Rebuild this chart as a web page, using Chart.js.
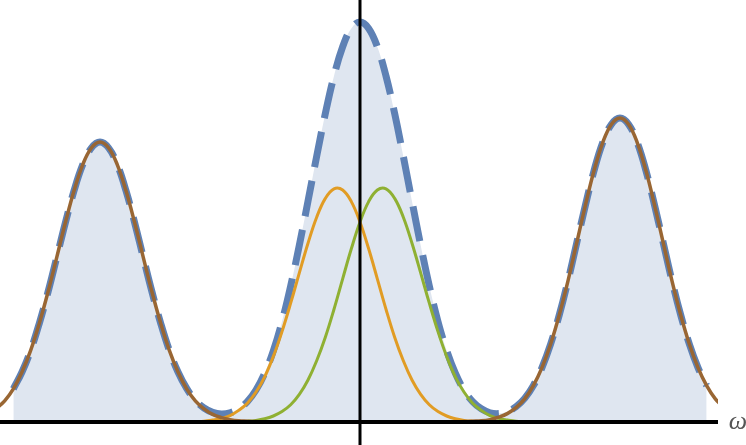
<!DOCTYPE html>
<html>
<head>
    <meta charset="utf-8">
    <title>Spectrum</title>
    <script src="https://cdn.jsdelivr.net/npm/chart.js"></script>
    <style>
        body { margin: 0; background: #fff; }
    </style>
</head>
<body>
<div style="width: 746px; height: 445px; position: relative;">
    <canvas id="specChart"></canvas>
</div>

<script>
    // frequency grid (omega)
    const omega = [
        -4.2, -4.1, -4.0, -3.9, -3.8, -3.7, -3.6, -3.5, -3.4, -3.3,
        -3.2, -3.1, -3.0, -2.9, -2.8, -2.7, -2.6, -2.5, -2.4, -2.3,
        -2.2, -2.1, -2.0, -1.9, -1.8, -1.7, -1.6, -1.5, -1.4, -1.3,
        -1.2, -1.1, -1.0, -0.9, -0.8, -0.7, -0.6, -0.5, -0.4, -0.3,
        -0.2, -0.1, 0.0, 0.1, 0.2, 0.3, 0.4, 0.5, 0.6, 0.7,
        0.8, 0.9, 1.0, 1.1, 1.2, 1.3, 1.4, 1.5, 1.6, 1.7,
        1.8, 1.9, 2.0, 2.1, 2.2, 2.3, 2.4, 2.5, 2.6, 2.7,
        2.8, 2.9, 3.0, 3.1, 3.2, 3.3, 3.4, 3.5, 3.6, 3.7,
        3.8, 3.9, 4.0, 4.1, 4.2
    ];

    // side peaks (brown)
    const sidePeaks = [
        0.033, 0.053, 0.083, 0.125, 0.179, 0.247, 0.325, 0.411, 0.498, 0.578,
        0.643, 0.685, 0.700, 0.685, 0.643, 0.578, 0.498, 0.411, 0.325, 0.247,
        0.179, 0.125, 0.083, 0.053, 0.033, 0.019, 0.011, 0.006, 0.003, 0.002,
        0.001, 0, 0, 0, 0, 0, 0, 0, 0, 0,
        0, 0, 0, 0, 0, 0, 0, 0, 0, 0,
        0, 0, 0, 0, 0.001, 0.002, 0.003, 0.006, 0.012, 0.021,
        0.036, 0.058, 0.091, 0.136, 0.195, 0.268, 0.353, 0.447, 0.541, 0.628,
        0.698, 0.744, 0.760, 0.744, 0.698, 0.628, 0.541, 0.447, 0.353, 0.268,
        0.195, 0.136, 0.091, 0.058, 0.036
    ];

    // left central component (orange)
    const leftCenter = [
        0, 0, 0, 0, 0, 0, 0, 0, 0, 0,
        0, 0, 0, 0, 0, 0, 0, 0, 0, 0,
        0, 0, 0.0005, 0.001, 0.002, 0.005, 0.009, 0.016, 0.029, 0.047,
        0.075, 0.113, 0.164, 0.226, 0.297, 0.373, 0.447, 0.512, 0.559, 0.583,
        0.580, 0.551, 0.500, 0.433, 0.358, 0.282, 0.212, 0.153, 0.105, 0.069,
        0.043, 0.026, 0.015, 0.008, 0.004, 0.002, 0.001, 0, 0, 0,
        0, 0, 0, 0, 0, 0, 0, 0, 0, 0,
        0, 0, 0, 0, 0, 0, 0, 0, 0, 0,
        0, 0, 0, 0, 0
    ];

    // right central component (green)
    const rightCenter = [
        0, 0, 0, 0, 0, 0, 0, 0, 0, 0,
        0, 0, 0, 0, 0, 0, 0, 0, 0, 0,
        0, 0, 0, 0, 0, 0, 0, 0, 0.001, 0.002,
        0.004, 0.008, 0.015, 0.026, 0.043, 0.069, 0.105, 0.153, 0.212, 0.282,
        0.358, 0.433, 0.500, 0.551, 0.580, 0.583, 0.559, 0.512, 0.447, 0.373,
        0.297, 0.226, 0.164, 0.113, 0.075, 0.047, 0.029, 0.016, 0.009, 0.005,
        0.002, 0.001, 0.0005, 0, 0, 0, 0, 0, 0, 0,
        0, 0, 0, 0, 0, 0, 0, 0, 0, 0,
        0, 0, 0, 0, 0
    ];

    // full spectrum (blue dashed, filled)
    const total = [
        null, null, 0.083, 0.125, 0.179, 0.247, 0.325, 0.411, 0.498, 0.578,
        0.643, 0.685, 0.700, 0.685, 0.643, 0.578, 0.498, 0.411, 0.325, 0.247,
        0.179, 0.125, 0.084, 0.054, 0.035, 0.024, 0.020, 0.023, 0.033, 0.051,
        0.080, 0.122, 0.178, 0.251, 0.340, 0.442, 0.552, 0.664, 0.771, 0.865,
        0.938, 0.984, 1.000, 0.984, 0.938, 0.865, 0.771, 0.664, 0.552, 0.442,
        0.340, 0.251, 0.179, 0.122, 0.080, 0.051, 0.033, 0.023, 0.021, 0.026,
        0.038, 0.059, 0.091, 0.136, 0.195, 0.268, 0.353, 0.447, 0.541, 0.628,
        0.698, 0.744, 0.760, 0.744, 0.698, 0.628, 0.541, 0.447, 0.353, 0.268,
        0.195, 0.136, 0.091, null, null
    ];

    const toPoints = vals => omega.map((w, i) => ({ x: w, y: vals[i] }));

    const lineBase = {
        pointRadius: 0,
        tension: 0.4,
        fill: false
    };

    // axes drawn on top of the curves, plus the omega label
    const axesPlugin = {
        id: 'axesOnTop',
        afterDatasetsDraw(chart) {
            const c = chart.ctx;
            const area = chart.chartArea;
            const x0 = chart.scales.x.getPixelForValue(0);
            const y0 = chart.scales.y.getPixelForValue(0);
            c.save();
            c.strokeStyle = '#000';
            c.lineWidth = 4;
            c.beginPath();
            c.moveTo(area.left, y0);
            c.lineTo(area.right, y0);
            c.stroke();
            c.lineWidth = 3;
            c.beginPath();
            c.moveTo(x0, 0);
            c.lineTo(x0, chart.height);
            c.stroke();
            c.fillStyle = '#555';
            c.font = 'italic 26px "Liberation Serif"';
            c.textAlign = 'center';
            c.textBaseline = 'alphabetic';
            c.fillText('ω', area.right + 20, y0 + 7);
            c.restore();
        }
    };

    const ctx = document.getElementById('specChart').getContext('2d');
    const specChart = new Chart(ctx, {
        type: 'line',
        data: {
            datasets: [
                Object.assign({}, lineBase, {
                    label: 'side peaks',
                    data: toPoints(sidePeaks),
                    borderColor: 'rgb(153, 102, 51)',
                    borderWidth: 3.5,
                    order: 1
                }),
                Object.assign({}, lineBase, {
                    label: 'left center',
                    data: toPoints(leftCenter),
                    borderColor: 'rgb(225, 156, 36)',
                    borderWidth: 3,
                    order: 2
                }),
                Object.assign({}, lineBase, {
                    label: 'right center',
                    data: toPoints(rightCenter),
                    borderColor: 'rgb(143, 176, 50)',
                    borderWidth: 3,
                    order: 3
                }),
                Object.assign({}, lineBase, {
                    label: 'total',
                    data: toPoints(total),
                    borderColor: 'rgb(94, 129, 181)',
                    backgroundColor: 'rgb(223, 230, 240)',
                    borderWidth: 7,
                    borderDash: [36, 14],
                    borderCapStyle: 'butt',
                    fill: 'origin',
                    order: 10
                })
            ]
        },
        options: {
            responsive: true,
            maintainAspectRatio: false,
            animation: false,
            layout: { padding: { left: 0, right: 28, top: 0, bottom: 0 } },
            plugins: {
                legend: { display: false },
                tooltip: { enabled: false },
                filler: { drawTime: 'beforeDatasetsDraw' }
            },
            scales: {
                x: { type: 'linear', min: -4.154, max: 4.131, display: false },
                y: { min: -0.0575, max: 1.055, display: false }
            }
        },
        plugins: [axesPlugin]
    });
</script>

</body>
</html>
